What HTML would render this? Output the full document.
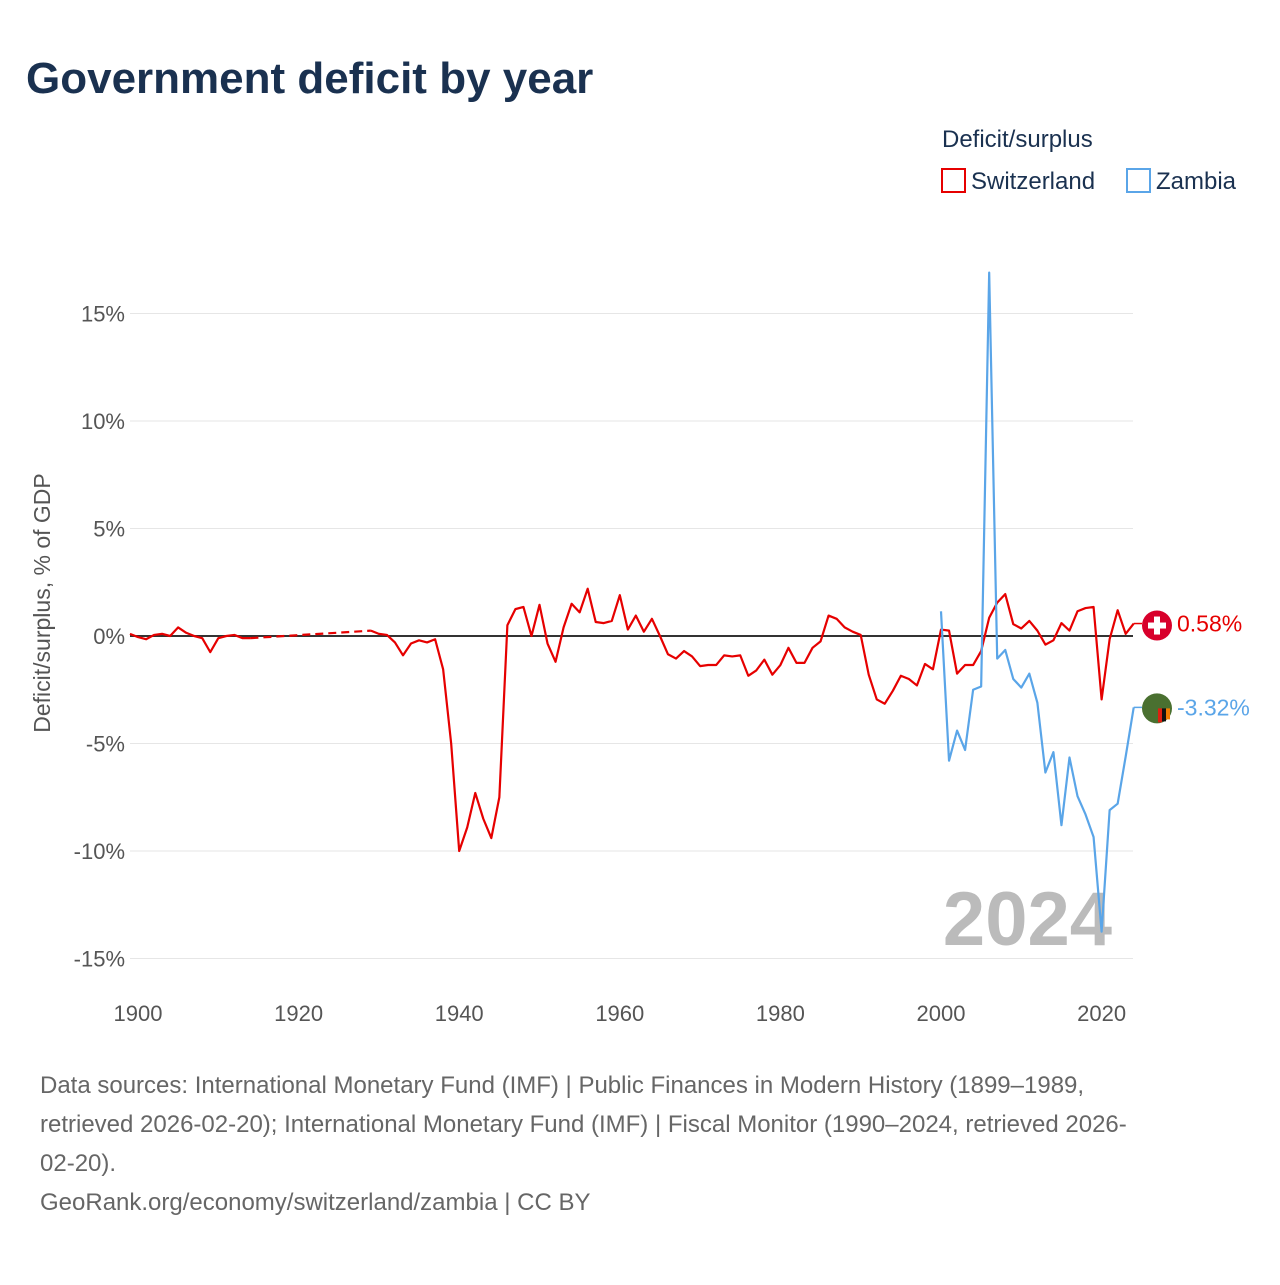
<!DOCTYPE html>
<html><head><meta charset="utf-8"><style>
body{margin:0;background:#fff;font-family:"Liberation Sans",sans-serif}
</style></head><body>
<svg width="1280" height="1280" xmlns="http://www.w3.org/2000/svg" font-family="Liberation Sans, sans-serif">
<text x="26" y="93" font-size="44" font-weight="bold" fill="#1a3150">Government deficit by year</text>
<g>
<text x="942" y="147" font-size="24" fill="#1a3150">Deficit/surplus</text>
<rect x="942" y="169" width="23" height="23" fill="none" stroke="#e60000" stroke-width="2"/>
<text x="971" y="189" font-size="24" fill="#1a3150">Switzerland</text>
<rect x="1127" y="169" width="23" height="23" fill="none" stroke="#5aa5e8" stroke-width="2"/>
<text x="1156" y="189" font-size="24" fill="#1a3150">Zambia</text>
</g>
<text transform="translate(50,603) rotate(-90)" text-anchor="middle" font-size="23" fill="#555">Deficit/surplus, % of GDP</text>
<g id="grid"></g>
<text x="1112" y="945" text-anchor="end" font-size="76" font-weight="bold" fill="#bbb">2024</text>
<g id="plot"></g>
<g font-size="24" fill="#666">
<text x="40" y="1093">Data sources: International Monetary Fund (IMF) | Public Finances in Modern History (1899–1989,</text>
<text x="40" y="1132">retrieved 2026-02-20); International Monetary Fund (IMF) | Fiscal Monitor (1990–2024, retrieved 2026-</text>
<text x="40" y="1171">02-20).</text>
<text x="40" y="1210">GeoRank.org/economy/switzerland/zambia | CC BY</text>
</g>
</svg>
<script>
const yTicks=[15,10,5,0,-5,-10,-15];
const yTickLabels=["15%","10%","5%","0%","-5%","-10%","-15%"];
const xTicks=[1900,1920,1940,1960,1980,2000,2020];
const chYears=[1899,1900,1901,1902,1903,1904,1905,1906,1907,1908,1909,1910,1911,1912,1913,1914,1929,1930,1931,1932,1933,1934,1935,1936,1937,1938,1939,1940,1941,1942,1943,1944,1945,1946,1947,1948,1949,1950,1951,1952,1953,1954,1955,1956,1957,1958,1959,1960,1961,1962,1963,1964,1965,1966,1967,1968,1969,1970,1971,1972,1973,1974,1975,1976,1977,1978,1979,1980,1981,1982,1983,1984,1985,1986,1987,1988,1989,1990,1991,1992,1993,1994,1995,1996,1997,1998,1999,2000,2001,2002,2003,2004,2005,2006,2007,2008,2009,2010,2011,2012,2013,2014,2015,2016,2017,2018,2019,2020,2021,2022,2023,2024];
const chValues=[0.1,-0.05,-0.15,0.05,0.1,0,0.4,0.15,0,-0.1,-0.75,-0.1,0,0.05,-0.1,-0.1,0.25,0.1,0.05,-0.3,-0.9,-0.35,-0.2,-0.3,-0.15,-1.55,-5.0,-10.0,-8.9,-7.3,-8.5,-9.4,-7.5,0.5,1.25,1.35,0,1.45,-0.35,-1.2,0.4,1.5,1.1,2.2,0.65,0.6,0.7,1.9,0.3,0.95,0.2,0.8,0,-0.85,-1.05,-0.7,-0.95,-1.4,-1.35,-1.35,-0.9,-0.95,-0.9,-1.85,-1.6,-1.1,-1.8,-1.35,-0.55,-1.25,-1.25,-0.55,-0.25,0.95,0.8,0.4,0.2,0.05,-1.8,-2.95,-3.15,-2.55,-1.85,-2.0,-2.3,-1.3,-1.55,0.3,0.25,-1.75,-1.35,-1.35,-0.7,0.85,1.55,1.95,0.55,0.35,0.7,0.25,-0.4,-0.2,0.6,0.25,1.15,1.3,1.35,-2.95,-0.15,1.2,0.1,0.58];
const zmYears=[2000,2001,2002,2003,2004,2005,2006,2007,2008,2009,2010,2011,2012,2013,2014,2015,2016,2017,2018,2019,2020,2021,2022,2023,2024];
const zmValues=[1.15,-5.8,-4.4,-5.3,-2.5,-2.35,16.9,-1.05,-0.65,-2.0,-2.4,-1.75,-3.1,-6.35,-5.4,-8.8,-5.65,-7.45,-8.3,-9.35,-13.75,-8.1,-7.8,-5.6,-3.32];
const X=y=>138+(y-1900)*8.03;
const Y=v=>636-v*21.5;
const NS="http://www.w3.org/2000/svg";
function mk(t,a,p){const e=document.createElementNS(NS,t);for(const k in a)e.setAttribute(k,a[k]);p.appendChild(e);return e;}
const grid=document.getElementById('grid'),plot=document.getElementById('plot');
yTicks.forEach((t,i)=>{
 if(t!==0){const l=mk('line',{x1:130,x2:1133,y1:Y(t),y2:Y(t),stroke:'#e6e6e6','stroke-width':1},grid);
 
 }
 const tx=mk('text',{x:125,y:Y(t)+8,'text-anchor':'end','font-size':22,fill:'#555'},grid);tx.textContent=yTickLabels[i];
 
 
});
xTicks.forEach(t=>{const tx=mk('text',{x:X(t),y:1021,'text-anchor':'middle','font-size':22,fill:'#555'},grid);tx.textContent=t;
 
 });
const zero=mk('line',{x1:130,x2:1133,y1:Y(0),y2:Y(0),stroke:'#333','stroke-width':2},plot);


function series(years,vals,color,name){
 const g=mk('g',{},plot);
 
 
 let seg=[];
 const flush=()=>{if(seg.length>1)mk('polyline',{points:seg.join(' '),fill:'none',stroke:color,'stroke-width':2.2,'stroke-linejoin':'round'},g);};
 for(let i=0;i<years.length;i++){
  if(i>0&&years[i]-years[i-1]>1){flush();
   mk('line',{x1:X(years[i-1]),y1:Y(vals[i-1]),x2:X(years[i]),y2:Y(vals[i]),stroke:color,'stroke-width':2.2,'stroke-dasharray':'8,5'},g);
   seg=[];}
  seg.push(X(years[i])+','+Y(vals[i]));
 }
 flush();
 const ly=vals[vals.length-1];
 mk('line',{x1:X(years[years.length-1]),x2:1142,y1:Y(ly),y2:Y(ly),stroke:color,'stroke-width':1.5},g);
}
series(chYears,chValues,'#e60000','series-switzerland');
series(zmYears,zmValues,'#5aa5e8','series-zambia');
// end markers
const sv=chValues[chValues.length-1],zv=zmValues[zmValues.length-1];
const sy=Y(sv)+2,zy=Y(zv)+1;
const sf=mk('g',{},plot);


mk('circle',{cx:1157,cy:sy,r:15,fill:'#d8002b'},sf);
mk('rect',{x:1154,y:sy-9,width:6,height:18,fill:'#fff'},sf);
mk('rect',{x:1148,y:sy-3,width:18,height:6,fill:'#fff'},sf);
const zf=mk('g',{},plot);


mk('circle',{cx:1157,cy:zy,r:15,fill:'#4a7030'},zf);
mk('rect',{x:1158,y:zy,width:4,height:14,fill:'#de2010'},zf);
mk('rect',{x:1162,y:zy,width:4,height:13,fill:'#111'},zf);
mk('rect',{x:1166,y:zy,width:4,height:11,fill:'#ef7d00'},zf);
const l1=mk('text',{x:1177,y:Y(sv)+8,'font-size':23,fill:'#e60000'},plot);l1.textContent=sv.toFixed(2)+'%';


const l2=mk('text',{x:1177,y:Y(zv)+8,'font-size':23,fill:'#5aa5e8'},plot);l2.textContent=zv.toFixed(2)+'%';


</script>
</body></html>
